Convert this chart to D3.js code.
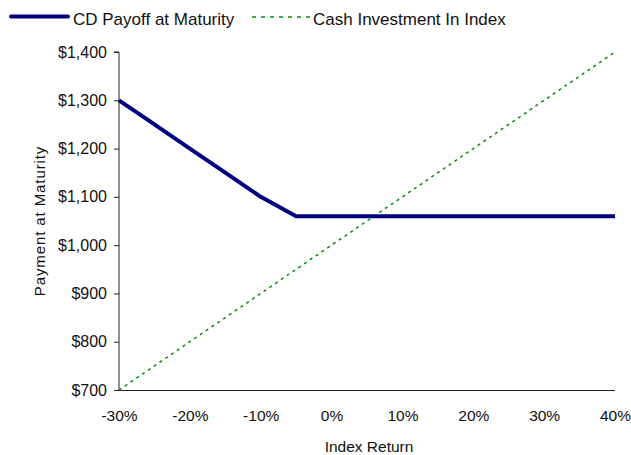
<!DOCTYPE html>
<html><head><meta charset="utf-8">
<script src="https://cdn.jsdelivr.net/npm/d3@7"></script>
<style>body{margin:0;background:#fff}svg{display:block}text{font-family:"Liberation Sans",Arial,sans-serif;fill:#111}</style>
</head><body>
<script>
const returns = [-0.30,-0.25,-0.20,-0.15,-0.10,-0.05,0.00,0.05,0.10,0.15,0.20,0.25,0.30,0.35,0.40];
const cdPayoff = [1300,1250,1200,1150,1100,1060,1060,1060,1060,1060,1060,1060,1060,1060,1060];
const cashIndex = [700,750,800,850,900,950,1000,1050,1100,1150,1200,1250,1300,1350,1400];
const xTicks = [-0.30,-0.20,-0.10,0.00,0.10,0.20,0.30,0.40];
const yTicks = [700,800,900,1000,1100,1200,1300,1400];
const seriesNames = ["CD Payoff at Maturity","Cash Investment In Index"];

const W=631,H=455;
const m={left:119,right:16,top:52,bottom:65};
const svg=d3.select("body").append("svg").attr("width",W).attr("height",H);
const x=d3.scaleLinear().domain([-0.30,0.40]).range([m.left,W-m.right]);
const y=d3.scaleLinear().domain([700,1400]).range([H-m.bottom,m.top]);

const yAxis=svg.append("g").attr("transform",`translate(${m.left},0)`)
  .call(d3.axisLeft(y).tickValues(yTicks).tickSize(5).tickPadding(7).tickFormat(d=>"$"+d3.format(",")(d)));
yAxis.selectAll("text").style("font-size","16px");
const xAxis=svg.append("g").attr("transform",`translate(0,${H-m.bottom})`)
  .call(d3.axisBottom(x).tickValues(xTicks).tickSize(0).tickPadding(20).tickFormat(d=>Math.round(d*100)+"%"));
xAxis.selectAll("text").style("font-size","15.5px");
svg.selectAll(".domain").attr("stroke","#222");
xAxis.select(".domain").attr("d",`M${m.left-4},0.5H${W-m.right}`);
yAxis.select(".domain").attr("d",`M-5,${m.top}H0V${H-m.bottom}`);
svg.selectAll(".tick line").attr("stroke","#222");

const line=d3.line().x((d,i)=>x(returns[i])).y(d=>y(d));
svg.append("path").datum(cashIndex).attr("d",line).attr("fill","none")
  .attr("stroke","#0a8a0a").attr("stroke-width",1.5).attr("stroke-dasharray","3,4");
svg.append("path").datum(cdPayoff).attr("d",line).attr("fill","none")
  .attr("stroke","#00007f").attr("stroke-width",4).attr("stroke-linejoin","round");

// legend
const lg=svg.append("g");
lg.append("line").attr("x1",11).attr("x2",68).attr("y1",16.5).attr("y2",16.5).attr("stroke","#00007f").attr("stroke-width",4).attr("stroke-linecap","round");
lg.append("text").attr("x",73).attr("y",25).style("font-size","17px").text(seriesNames[0]);
lg.append("line").attr("x1",252).attr("x2",310).attr("y1",17).attr("y2",17).attr("stroke","#0a8a0a").attr("stroke-width",1.5).attr("stroke-dasharray","4,5");
lg.append("text").attr("x",313).attr("y",25).style("font-size","17px").text(seriesNames[1]);

svg.append("text").attr("x",369).attr("y",452).attr("text-anchor","middle").style("font-size","15.5px").text("Index Return");
svg.append("text").attr("transform",`translate(45,${(m.top+H-m.bottom)/2}) rotate(-90)`).attr("text-anchor","middle")
  .style("font-size","15px").style("letter-spacing","0.9px").text("Payment at Maturity");
</script>
</body></html>
